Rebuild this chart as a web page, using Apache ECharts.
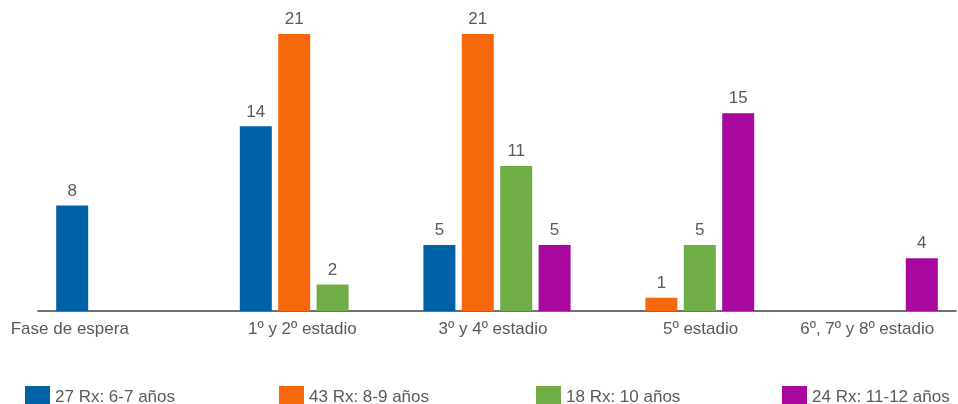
<!DOCTYPE html>
<html><head><meta charset="utf-8">
<script src="https://cdn.jsdelivr.net/npm/echarts@6/dist/echarts.min.js"></script>
<style>html,body{margin:0;padding:0;background:#fff}#c{width:958px;height:404px}</style>
</head><body><div id="c"></div>
<script>
const categories = ['Fase de espera', '1º y 2º estadio', '3º y 4º estadio', '5º estadio', '6º, 7º y 8º estadio'];
const seriesNames = ['27 Rx: 6-7 años', '43 Rx: 8-9 años', '18 Rx: 10 años', '24 Rx: 11-12 años'];
const s1 = [8, 14, 5, null, null];
const s2 = [null, 21, 21, 1, null];
const s3 = [null, 2, 11, 5, null];
const s4 = [null, null, 5, 15, 4];
const colors = ['#0062a6', '#f7680c', '#70ad47', '#a8089e'];
const labelShift = [-60, -11, -4, 20, 3];
const FONT = "'Liberation Sans', Arial, sans-serif";
const FS = 17;

const rich = {};
labelShift.forEach((d, i) => {
  rich['a' + i] = {
    fontSize: FS, color: '#595959', fontFamily: FONT,
    padding: d < 0 ? [0, -2 * d, 0, 0] : [0, 0, 0, 2 * d]
  };
});

const data = [s1, s2, s3, s4];
const legendLefts = [20, 274, 531, 777];
const chart = echarts.init(document.getElementById('c'));
chart.setOption({
  animation: false,
  textStyle: { fontFamily: FONT },
  grid: { left: 38, right: 2, top: 34, bottom: 93, containLabel: false },
  legend: seriesNames.map((n, i) => ({
    data: [n], left: legendLefts[i], top: 381, itemWidth: 25, itemHeight: 23, itemGap: 9,
    textStyle: { fontSize: FS, color: '#595959', fontFamily: FONT }, icon: 'rect'
  })),
  xAxis: {
    type: 'category', data: categories,
    axisLine: { lineStyle: { color: '#404040', width: 1.5 } },
    axisTick: { show: false },
    axisLabel: {
      margin: 10, fontSize: FS, color: '#595959', interval: 0,
      formatter: (v, i) => '{a' + i + '|' + v + '}', rich: rich
    }
  },
  yAxis: { type: 'value', min: 0, max: 21, show: false, splitLine: { show: false } },
  series: data.map((d, i) => ({
    name: seriesNames[i], type: 'bar', data: d, barWidth: 32, barGap: '20%',
    itemStyle: { color: colors[i] },
    label: { show: true, position: 'top', distance: 6, fontSize: FS, color: '#595959', fontFamily: FONT }
  }))
});
</script></body></html>
